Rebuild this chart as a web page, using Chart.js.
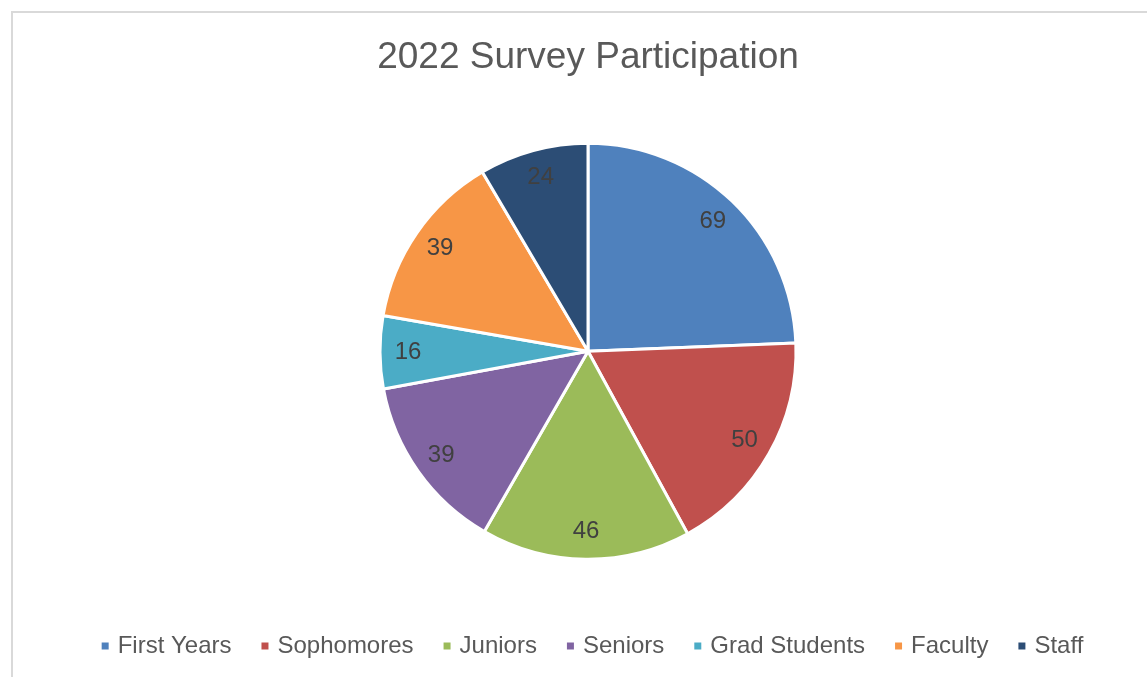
<!DOCTYPE html>
<html>
<head>
<meta charset="utf-8">
<script src="https://cdn.jsdelivr.net/npm/chart.js@4/dist/chart.umd.min.js"></script>
<style>
  html, body { margin: 0; padding: 0; background: #ffffff; overflow: hidden; }
  #frame { position: absolute; left: 11px; top: 11px; width: 1200px; height: 720px;
           border: 2px solid #d9d9d9; box-sizing: border-box; }
  #wrap { position: absolute; left: 0; top: 0; width: 1147px; height: 677px; }
</style>
</head>
<body>
<div id="frame"></div>
<div id="wrap"><canvas id="chart" width="1147" height="677"></canvas></div>
<script>
const titleText = '2022 Survey Participation';
const categories = ['First Years', 'Sophomores', 'Juniors', 'Seniors', 'Grad Students', 'Faculty', 'Staff'];
const participants = [69, 50, 46, 39, 16, 39, 24];
const sliceColors = ['#4f81bd', '#c0504d', '#9bbb59', '#8064a2', '#4bacc6', '#f79646', '#2c4d75'];

const FONT = '"Liberation Sans", Arial, sans-serif';

// Writes each slice's value near its outer edge
const sliceValueLabels = {
  id: 'sliceValueLabels',
  afterDatasetsDraw(chart) {
    const ctx = chart.ctx;
    const meta = chart.getDatasetMeta(0);
    const values = chart.data.datasets[0].data;
    ctx.save();
    ctx.font = '24px ' + FONT;
    ctx.fillStyle = '#404040';
    ctx.textAlign = 'center';
    ctx.textBaseline = 'middle';
    meta.data.forEach((arc, i) => {
      const p = arc.getProps(['x', 'y', 'startAngle', 'endAngle', 'outerRadius'], true);
      const mid = (p.startAngle + p.endAngle) / 2;
      const r = p.outerRadius * 0.865;
      ctx.fillText(String(values[i]), p.x + Math.cos(mid) * r, p.y + Math.sin(mid) * r);
    });
    ctx.restore();
  }
};

// Nudges the legend row slightly to the right of the plot's centre line
const legendNudge = {
  id: 'legendNudge',
  afterLayout(chart) {
    if (chart.legend) {
      chart.legend.left += 6;
      chart.legend.right += 6;
    }
  }
};

new Chart(document.getElementById('chart'), {
  type: 'pie',
  data: {
    labels: categories,
    datasets: [{
      data: participants,
      backgroundColor: sliceColors,
      borderColor: '#ffffff',
      borderWidth: 3
    }]
  },
  options: {
    responsive: false,
    animation: false,
    radius: 208,
    layout: { padding: { left: 29, right: 0, top: 0, bottom: 9 } },
    plugins: {
      title: {
        display: true,
        text: titleText,
        color: '#595959',
        font: { family: FONT, size: 37, weight: 'normal' },
        padding: { top: 36, bottom: 21 }
      },
      legend: {
        position: 'bottom',
        labels: {
          usePointStyle: true,
          pointStyle: 'rect',
          boxWidth: 1,
          boxHeight: 7,
          padding: 33,
          color: '#595959',
          font: { family: FONT, size: 24 },
          generateLabels(chart) {
            const items = Chart.overrides.pie.plugins.legend.labels.generateLabels(chart);
            items.forEach(item => { item.lineWidth = 0; item.strokeStyle = item.fillStyle; });
            return items;
          }
        }
      },
      tooltip: { enabled: false }
    }
  },
  plugins: [sliceValueLabels, legendNudge]
});
</script>
</body>
</html>
